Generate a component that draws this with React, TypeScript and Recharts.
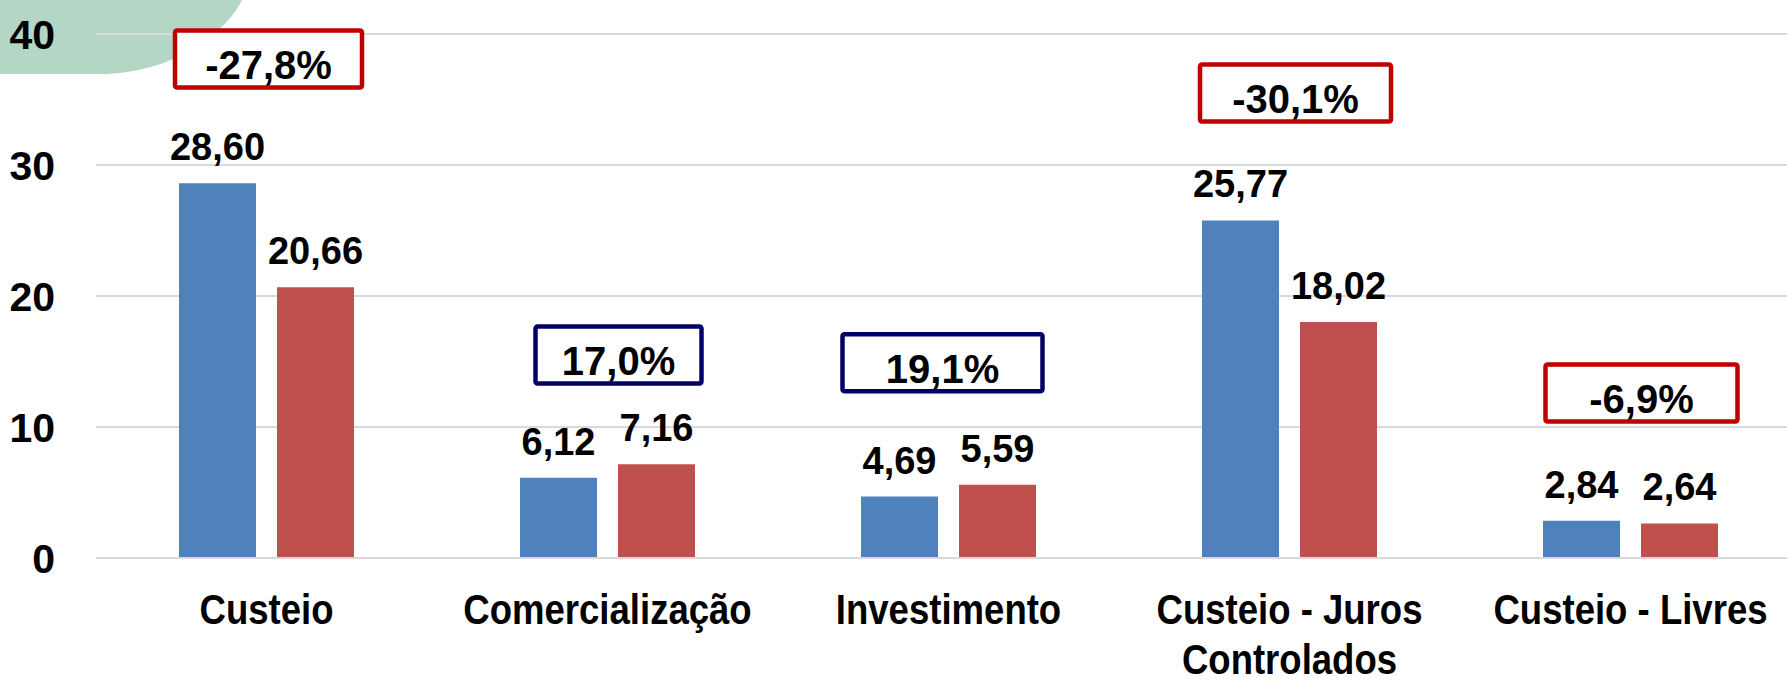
import React from 'react'
import {
  BarChart,
  Bar,
  XAxis,
  YAxis,
  CartesianGrid,
  LabelList,
  ReferenceDot,
} from 'recharts'

// values (R$ bilhões)
const categories = ['Custeio', 'Comercialização', 'Investimento', 'Custeio - Juros Controlados', 'Custeio - Livres']
const previousValues = [28.6, 6.12, 4.69, 25.77, 2.84]
const currentValues = [20.66, 7.16, 5.59, 18.02, 2.64]
const changeLabels = ['-27,8%', '17,0%', '19,1%', '-30,1%', '-6,9%']
const yTicks = [0, 10, 20, 30, 40]

// where the change boxes sit (y in chart units, dx / width in px)
const boxY = [38.1, 15.5, 14.9, 35.5, 12.6]
const boxDx = [2, 11, -6, 6, 11]
const boxW = [187, 166, 200, 191, 192]
const boxH = 57

const FONT = "'Liberation Sans', Arial, sans-serif"
const BLUE = '#4F81BD'
const RED = '#C0504D'
const GRID = '#D9D9D9'

const chartData = categories.map((name, i) => ({
  name,
  previous: previousValues[i],
  current: currentValues[i],
}))

const fmt = (v: any) => Number(v).toFixed(2).replace('.', ',')

// greedy word wrap by character count
const wrap = (s: string, max = 16) => {
  const lines: string[] = []
  let cur = ''
  s.split(' ').forEach((w) => {
    const next = cur ? cur + ' ' + w : w
    if (next.length > max && cur) {
      lines.push(cur)
      cur = w
    } else {
      cur = next
    }
  })
  if (cur) lines.push(cur)
  return lines
}

// category labels are a narrow face in the original, so squeeze horizontally
const CategoryTick = ({ x, y, payload }: any) => (
  <g transform={`translate(${x},${y}) scale(0.85,1)`}>
    <text textAnchor="middle" fontSize={43} fontWeight="bold" fontFamily={FONT} fill="#000">
      {wrap(String(payload.value)).map((line, i) => (
        <tspan key={i} x={0} y={31 + i * 50}>
          {line}
        </tspan>
      ))}
    </text>
  </g>
)

const changeBox = (i: number) => (props: any) => {
  const { cx, cy } = props
  const neg = changeLabels[i].startsWith('-')
  const cxx = cx + boxDx[i]
  return (
    <g>
      <rect
        x={cxx - boxW[i] / 2}
        y={cy - boxH / 2}
        width={boxW[i]}
        height={boxH}
        rx={2}
        fill="#fff"
        stroke={neg ? '#C00000' : '#000066'}
        strokeWidth={4.5}
      />
      <text
        x={cxx}
        y={cy + 20}
        textAnchor="middle"
        fontSize={40}
        fontWeight="bold"
        fontFamily={FONT}
        fill="#000"
      >
        {changeLabels[i]}
      </text>
    </g>
  )
}

export default function App() {
  return (
    <div style={{ position: 'absolute', left: 0, top: 0, width: 1787, height: 681, overflow: 'hidden', background: '#fff' }}>
      {/* green corner decoration */}
      <svg width={260} height={90} style={{ position: 'absolute', left: 0, top: 0 }}>
        <path d="M0,0 L242,0 C225,35 170,74 100,74 L0,74 Z" fill="#B4D6C4" />
      </svg>
      <div style={{ position: 'absolute', left: 0, top: 0 }}>
        <BarChart
          width={1801}
          height={681}
          data={chartData}
          margin={{ top: 34, right: 0, bottom: 0, left: 0 }}
          barSize={77}
          barGap={21}
        >
          <CartesianGrid vertical={false} stroke={GRID} strokeWidth={2} />
          <XAxis
            dataKey="name"
            height={123}
            axisLine={{ stroke: GRID, strokeWidth: 2 }}
            tickLine={false}
            tickSize={0}
            tickMargin={35}
            interval={0}
            tick={(p: any) => <CategoryTick {...p} />}
          />
          <YAxis
            width={96}
            domain={[0, 40]}
            ticks={yTicks}
            interval={0}
            axisLine={false}
            tickLine={false}
            tickSize={0}
            tickMargin={41}
            tick={{ fontSize: 41, fontWeight: 'bold', fontFamily: FONT, fill: '#000' }}
          />
          <Bar dataKey="previous" fill={BLUE} isAnimationActive={false}>
            <LabelList
              dataKey="previous"
              position="top"
              offset={23}
              formatter={fmt}
              style={{ fontSize: 38, fontWeight: 'bold', fontFamily: FONT, fill: '#000' }}
            />
          </Bar>
          <Bar dataKey="current" fill={RED} isAnimationActive={false}>
            <LabelList
              dataKey="current"
              position="top"
              offset={23}
              formatter={fmt}
              style={{ fontSize: 38, fontWeight: 'bold', fontFamily: FONT, fill: '#000' }}
            />
          </Bar>
          {categories.map((c, i) => (
            <ReferenceDot
              key={c}
              x={c}
              y={boxY[i]}
              r={1}
              ifOverflow="visible"
              shape={changeBox(i)}
            />
          ))}
        </BarChart>
      </div>
    </div>
  )
}
